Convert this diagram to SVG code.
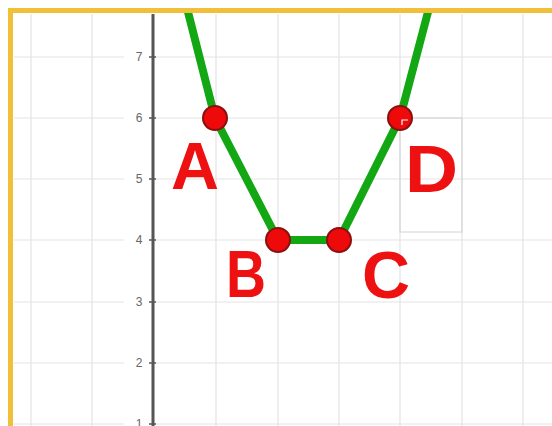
<svg xmlns="http://www.w3.org/2000/svg" width="552" height="426" viewBox="0 0 552 426">
<style>
.grid{stroke:#e3e3e3;stroke-width:1.2;fill:none}
.tick{stroke:#555;stroke-width:1.5}
.tl{font-family:"Liberation Sans",Arial,sans-serif;font-size:12px;fill:#666;text-anchor:middle}
.seg{stroke:#13a813;stroke-width:8;stroke-linecap:round;fill:none}
.pt{fill:#ee0a0a;stroke:#8a1010;stroke-width:2}
.lbl{font-family:"Liberation Sans",Arial,sans-serif;font-weight:bold;font-size:67px;fill:#ee1111}
</style>
<rect width="552" height="426" fill="#ffffff"/>
<g id="grid">
<path class="grid" d="M31 14V426M92 14V426M216 14V426M278 14V426M339 14V426M400 14V426M462 14V426M523 14V426"/>
<path class="grid" d="M14 57H124M155 57H552M14 118H124M155 118H552M14 179H124M155 179H552M14 240H124M155 240H552M14 302H124M155 302H552M14 363H124M155 363H552M14 424H124M155 424H552"/>
<rect x="400" y="118" width="62" height="114" fill="none" stroke="#d2d2d2" stroke-width="1"/>
</g>
<g id="axis">
<line x1="153" y1="14" x2="153" y2="426" stroke="#555" stroke-width="3"/>
<path class="tick" d="M149 57H156M149 118H156M149 179H156M149 240H156M149 302H156M149 363H156M149 424H156"/>
<text class="tl" x="139" y="61">7</text>
<text class="tl" x="139" y="122">6</text>
<text class="tl" x="139" y="183">5</text>
<text class="tl" x="139" y="244">4</text>
<text class="tl" x="139" y="306">3</text>
<text class="tl" x="139" y="367">2</text>
<text class="tl" x="139" y="428">1</text>
</g>
<g id="connectors">
<path class="seg" d="M188 12L215 118L278 240L339 240L400 118L428 12"/>
</g>
<g id="border">
<path d="M8 10.5H552M10.5 8V426" stroke="#f0c038" stroke-width="5" fill="none"/>
</g>
<g id="A"><circle class="pt" cx="215" cy="118" r="12"/><text class="lbl" x="171" y="189" textLength="48" lengthAdjust="spacingAndGlyphs">A</text></g>
<g id="B"><circle class="pt" cx="278" cy="240" r="12"/><text class="lbl" x="226" y="297" textLength="40" lengthAdjust="spacingAndGlyphs">B</text></g>
<g id="C"><circle class="pt" cx="339" cy="240" r="12"/><text class="lbl" x="362" y="298" textLength="48" lengthAdjust="spacingAndGlyphs">C</text></g>
<g id="D"><circle class="pt" cx="400" cy="118" r="12"/><path d="M402 125V120H408" stroke="#fff" stroke-width="1.2" fill="none"/><text class="lbl" x="405" y="192" textLength="53" lengthAdjust="spacingAndGlyphs">D</text></g>
</svg>
